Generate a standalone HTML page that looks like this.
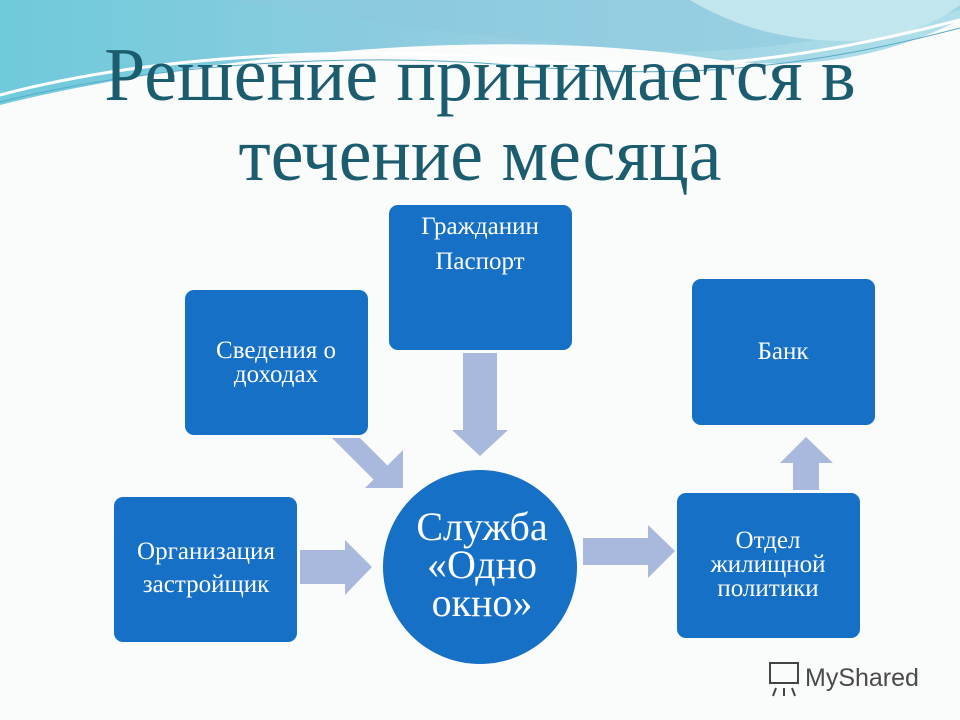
<!DOCTYPE html>
<html><head><meta charset="utf-8"><style>
html,body{margin:0;padding:0;width:960px;height:720px;overflow:hidden;background:#fafbfb;}
svg{display:block}
</style></head><body>
<svg width="960" height="720" xmlns="http://www.w3.org/2000/svg">
<defs>
<linearGradient id="bg" x1="0" y1="0" x2="1" y2="0">
<stop offset="0" stop-color="#6fcadb"/><stop offset="0.5" stop-color="#93cde0"/><stop offset="1" stop-color="#b0dfea"/>
</linearGradient>
</defs>
<rect width="960" height="720" fill="#fafbfb"/>
<path d="M0 0 H960 V20 C880 60 800 70 720 60 C600 40 450 40 300 55 C180 68 80 85 0 105 Z" fill="url(#bg)"/>
<path d="M230 0 C350 20 500 40 640 50 C700 55 800 50 960 10 V0 Z" fill="#8bc8dd" opacity="0.5"/>
<path d="M690 0 C740 30 800 45 870 40 C910 35 940 20 960 5 V0 Z" fill="#c2e6ee"/>
<path d="M0 95 C150 55 350 45 520 60 C650 70 760 72 960 20" fill="none" stroke="#ffffff" stroke-width="3"/>
<path d="M0 102 C160 62 360 52 520 66 C650 76 770 78 960 28" fill="none" stroke="#5aa9c6" stroke-width="1"/>
<text x="480" y="100" text-anchor="middle" font-family="Liberation Serif, serif" font-size="76" fill="#1b5c6f" transform="translate(480 0) scale(0.97 1) translate(-480 0)">Решение принимается в</text>
<text x="480" y="180" text-anchor="middle" font-family="Liberation Serif, serif" font-size="76" fill="#1b5c6f" transform="translate(480 0) scale(0.97 1) translate(-480 0)">течение месяца</text>

<g fill="#a9b9de">
<polygon points="463,353 497,353 497,430 508,430 480,456 452,430 463,430"/>
<polygon points="332,438 360,438 387.5,465.5 403,450 403,488 365,488 373.5,479.5"/>
<polygon points="300,550 345,550 345,540 372,567 345,595 345,584 300,584"/>
<polygon points="583,538 648,538 648,525 675,551 648,578 648,565 583,565"/>
<polygon points="793,490 819,490 819,463 833,463 806,437 780,463 793,463"/>
</g>

<g fill="#1570c6">
<rect x="389" y="205" width="183" height="145" rx="9"/>
<rect x="185" y="290" width="183" height="145" rx="9"/>
<rect x="692" y="279" width="183" height="146" rx="9"/>
<rect x="114" y="497" width="183" height="145" rx="9"/>
<rect x="677" y="493" width="183" height="145" rx="9"/>
<circle cx="480" cy="567" r="97"/>
</g>
<g font-family="Liberation Serif, serif" fill="#ffffff" text-anchor="middle" font-size="25">
<text x="480" y="234">Гражданин</text>
<text x="480" y="269">Паспорт</text>
<text x="276" y="358">Сведения о</text>
<text x="276" y="382">доходах</text>
<text x="783" y="359">Банк</text>
<text x="206" y="559">Организация</text>
<text x="206" y="592">застройщик</text>
<text x="768" y="548">Отдел</text>
<text x="768" y="572">жилищной</text>
<text x="768" y="596">политики</text>
</g>
<g font-family="Liberation Serif, serif" fill="#ffffff" text-anchor="middle" font-size="40">
<text x="482" y="540">Служба</text>
<text x="482" y="578">«Одно</text>
<text x="482" y="616">окно»</text>
</g>
<g stroke="#444" stroke-width="2" fill="none">
<rect x="770" y="663" width="28" height="20"/>
<path d="M776 688 L773 696 M784 688 V696 M792 688 L795 696"/>
</g>
<text x="805" y="686" font-family="Liberation Sans, sans-serif" font-size="25" fill="#4a4a4a">MyShared</text>
</svg>
</body></html>
